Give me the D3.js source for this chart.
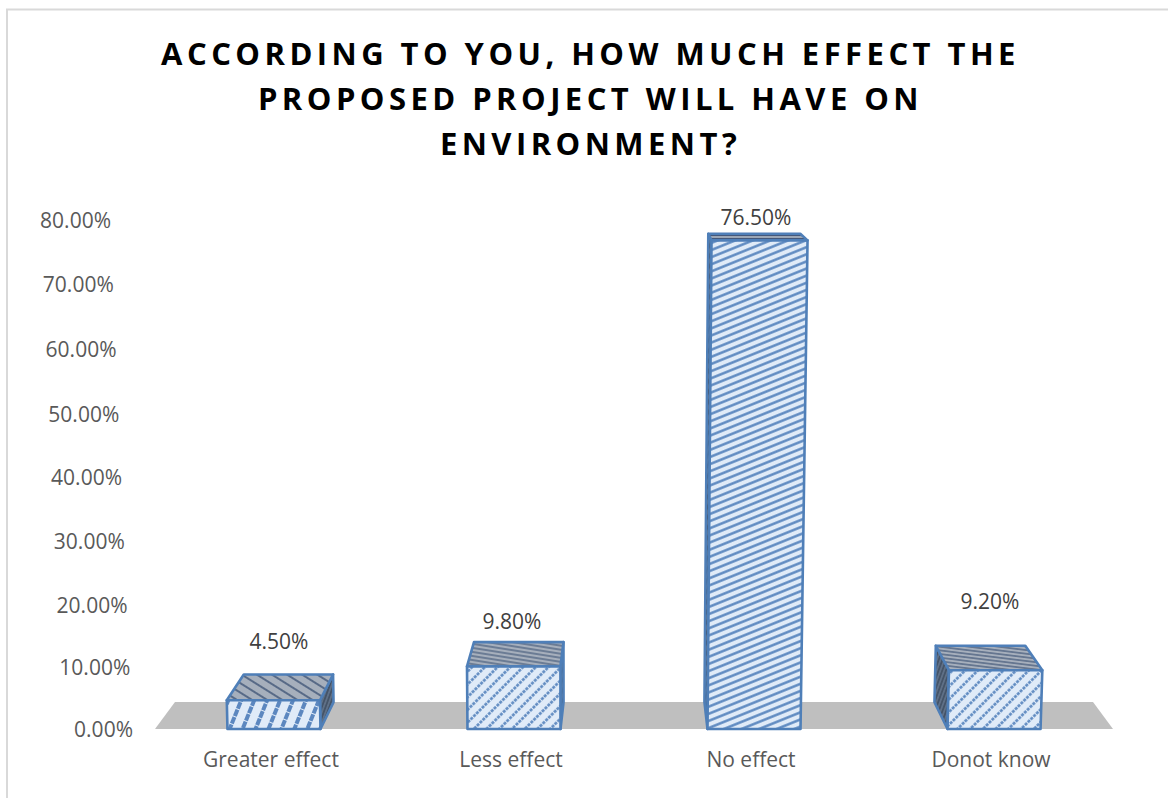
<!DOCTYPE html>
<html><head><meta charset="utf-8">
<script src="https://cdn.jsdelivr.net/npm/d3@7"></script>
<style>html,body{margin:0;background:#fff}svg{display:block}</style></head>
<body><svg id="c" width="1168" height="798"></svg>
<script>
const titleLines = ["ACCORDING TO YOU, HOW MUCH EFFECT THE","PROPOSED PROJECT WILL HAVE ON","ENVIRONMENT?"];
const categories = ["Greater effect","Less effect","No effect","Donot know"];
const values = [4.5,9.8,76.5,9.2];
const valueLabels = ["4.50%","9.80%","76.50%","9.20%"];
const tickValues = [0,10,20,30,40,50,60,70,80];

const svg = d3.select("#c");
const font = "'Open Sans',sans-serif";
const textCol = "#595959";
const edge = "#4f7fb8";

const x = d3.scaleBand().domain(categories).range([154,1114]).paddingInner(.6125).paddingOuter(.306);
const y = d3.scaleLinear().domain([0,80]).range([729,218]);
// the wall is seen in perspective, so its labels run on their own slightly bent scale
const axisY = d3.scaleLinear().domain([0,20,50,80]).range([730,606,415,221]);
const axisX = d3.scaleLinear().domain([0,80]).range([133,111]);

// perspective of the 3D chart
const vp = [634,83], depthT = 0.0417;
const back = p => [p[0]+(vp[0]-p[0])*depthT, p[1]+(vp[1]-p[1])*depthT];
const lean = (px,v) => [px+(px-583)*6.6e-5*(y(0)-y(v)), y(v)];

// frame
svg.append("path").attr("d","M7,798V9.5H1168").attr("fill","none").attr("stroke","#d9d9d9").attr("stroke-width",2);

// title
svg.append("g").selectAll("text").data(titleLines).join("text")
  .attr("x",590.5).attr("y",(d,i)=>65+i*45).attr("text-anchor","middle")
  .attr("font-family",font).attr("font-weight",700).attr("font-size",31).attr("letter-spacing",4.45).attr("fill","#000").text(d=>d);

// hatch patterns
const defs = svg.append("defs");
function hatch(id,bg,col,angle,gap,w,dash){
  const p = defs.append("pattern").attr("id",id).attr("patternUnits","userSpaceOnUse")
    .attr("width",24).attr("height",gap).attr("patternTransform",`rotate(${angle})`);
  p.append("rect").attr("width",24).attr("height",gap).attr("fill",bg);
  const l = p.append("line").attr("x1",0).attr("x2",24).attr("y1",gap/2).attr("y2",gap/2)
    .attr("stroke",col).attr("stroke-width",w);
  if(dash) l.attr("stroke-dasharray",dash);
}
const frontHatch=[[-68,12,4,"7 1"],[-45,9,2.6,"3 1"],[-22,6.6,2.4,null],[-45,9,2.6,"3 1"]];
const topHatch=[[32,8,1.6],[9,4,1.2],[0,3,1.2],[7,3.6,1.2]];
categories.forEach((c,i)=>{
  hatch("f"+i,"#e0ebf8","#5b87bf",...frontHatch[i]);
  hatch("t"+i,"#a6afbc","#44597a",...topHatch[i]);
  hatch("s"+i,"#5f7087","#3d4c60",-70,3.5,1.4);
});
defs.append("filter").attr("id","soft").append("feGaussianBlur").attr("stdDeviation",0.6);

// floor
const fl=[[155,729],[1113,729],back([1113,729]),back([155,729])];
svg.append("path").attr("d",d3.line()(fl)+"Z").attr("fill","#bfbfbf");

// bars
const pts=(a)=>d3.line()(a)+"Z";
const bars=svg.append("g").attr("filter","url(#soft)").selectAll("g").data(categories).join("g");
bars.each(function(c,i){
  const g=d3.select(this), v=values[i];
  const x0=x(c), x1=x0+x.bandwidth();
  const bl=[x0,y(0)], br=[x1,y(0)], tl=lean(x0,v), tr=lean(x1,v);
  const face=(a,fill)=>g.append("path").attr("d",pts(a)).attr("fill",fill)
     .attr("stroke",edge).attr("stroke-width",2.6).attr("stroke-linejoin","round");
  if(x0<vp[0] && x1<vp[0]) face([br,tr,back(tr),back(br)],`url(#s${i})`);
  if(x0>vp[0]) face([bl,tl,back(tl),back(bl)],`url(#s${i})`);
  face([tl,tr,back(tr),back(tl)],`url(#t${i})`);
  face([bl,br,tr,tl],`url(#f${i})`);
});

// data labels
const labelY=[642,622,218,602];
svg.append("g").selectAll("text").data(valueLabels).join("text")
  .attr("x",(d,i)=>x(categories[i])+x.bandwidth()/2+[5,-2,2,-4][i]).attr("y",(d,i)=>labelY[i]+7)
  .attr("text-anchor","middle").attr("font-family",font).attr("font-size",21).attr("fill","#404040").text(d=>d);

// value axis, each label follows the slanted wall
const axis=d3.axisLeft(axisY).tickValues(tickValues).tickSize(0).tickPadding(0).tickFormat(d=>d3.format(".2f")(d)+"%");
const ag=svg.append("g").call(axis);
ag.select(".domain").remove();
ag.selectAll(".tick").attr("transform",d=>`translate(${axisX(d)},${axisY(d)})`);
ag.selectAll("text").attr("font-family",font).attr("font-size",21).attr("fill",textCol);

// category axis
const cat=d3.axisBottom(x).tickSize(0).tickPadding(0);
const cg=svg.append("g").attr("transform","translate(-3,752)").call(cat);
cg.select(".domain").remove();
cg.selectAll("text").attr("font-family",font).attr("font-size",21).attr("fill",textCol);
</script></body></html>
